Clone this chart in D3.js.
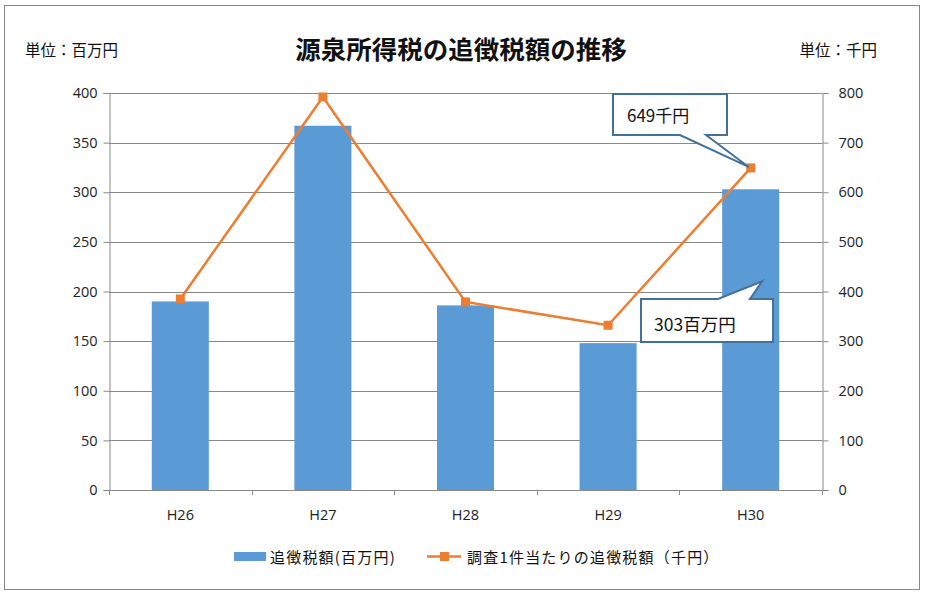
<!DOCTYPE html>
<html><head><meta charset="utf-8">
<script src="https://cdn.jsdelivr.net/npm/d3@7"></script>
<style>body{margin:0;background:#fff}svg{display:block;font-family:"Noto Sans CJK JP","Noto Sans",sans-serif}</style>
</head><body>
<svg id="c" width="925" height="595"></svg>
<script>
const categories = ["H26","H27","H28","H29","H30"];
const barValues = [190, 367, 186, 148, 303];
const lineValues = [385, 792, 379, 332, 649];
const leftTicks = [0,50,100,150,200,250,300,350,400];
const rightTicks = [0,100,200,300,400,500,600,700,800];
const barName = "追徴税額(百万円)";
const lineName = "調査1件当たりの追徴税額（千円）";
const title = "源泉所得税の追徴税額の推移";

const svg = d3.select("#c");
const M = {l:109, r:822, t:93, b:490};
const x = d3.scaleBand().domain(categories).range([M.l, M.r]).paddingInner(0.6).paddingOuter(0.3);
const xc = d3.scaleBand().domain(categories).range([M.l, M.r]);
const yL = d3.scaleLinear().domain([0,400]).range([M.b, M.t]);
const yR = d3.scaleLinear().domain([0,800]).range([M.b, M.t]);
const grid = "#888";

svg.append("rect").attr("x",4.5).attr("y",5.5).attr("width",915).attr("height",584)
  .attr("fill","#fff").attr("stroke","#888").attr("stroke-width",1);

// gridlines
svg.append("g").selectAll("line").data(leftTicks.slice(1)).join("line")
  .attr("x1",M.l).attr("x2",M.r).attr("y1",d=>Math.round(yL(d))+0.5).attr("y2",d=>Math.round(yL(d))+0.5)
  .attr("stroke",grid).attr("stroke-width",1);

// bars
svg.append("g").selectAll("rect").data(barValues).join("rect")
  .attr("x",(d,i)=>x(categories[i])).attr("width",x.bandwidth())
  .attr("y",d=>yL(d)).attr("height",d=>yL(0)-yL(d)).attr("fill","#5b9bd5");

// axes
const axL = d3.axisLeft(yL).tickValues(leftTicks).tickSize(6).tickPadding(6);
const gL = svg.append("g").attr("transform",`translate(${M.l+0.5},0)`).call(axL);
const axR = d3.axisRight(yR).tickValues(rightTicks).tickSize(6).tickPadding(10);
const gR = svg.append("g").attr("transform",`translate(${M.r+0.5},0)`).call(axR);
const axB = d3.axisBottom(xc).tickSize(0).tickPadding(19);
const gB = svg.append("g").attr("transform",`translate(0,${M.b+0.5})`).call(axB);
// category boundary ticks
svg.append("g").selectAll("line").data(d3.range(categories.length+1)).join("line")
  .attr("x1",i=>Math.round(M.l+i*xc.step())+0.5).attr("x2",i=>Math.round(M.l+i*xc.step())+0.5)
  .attr("y1",M.b).attr("y2",M.b+5).attr("stroke",grid);
[gL,gR,gB].forEach(g=>{
  g.selectAll(".domain").attr("stroke",grid);
  g.selectAll(".tick line").attr("stroke",grid);
  g.selectAll("text").attr("fill","#222").style("font-size","14.5px").style("font-family","'Open Sans','Noto Sans',sans-serif");
});
gB.select(".domain").attr("d",`M${M.l},0H${M.r}`);

// line
const pts = lineValues.map((v,i)=>[xc(categories[i])+xc.bandwidth()/2, yR(v)]);
svg.append("path").attr("d",d3.line()(pts)).attr("fill","none").attr("stroke","#ed7d31").attr("stroke-width",2.5);
svg.append("g").selectAll("rect").data(pts).join("rect")
  .attr("x",d=>d[0]-4.5).attr("y",d=>d[1]-4.5).attr("width",9).attr("height",9).attr("fill","#ed7d31");

// callouts
const cs = "#41719c";
const p30 = pts[4];
svg.append("path").attr("d",`M613,94H727V135H706L${p30[0]-2},${p30[1]-1}L680,135H613Z`)
  .attr("fill","#fff").attr("stroke",cs).attr("stroke-width",2).attr("stroke-linejoin","miter");
svg.append("text").attr("x",627).attr("y",122).text("649千円").style("font-size","17px").attr("fill","#111");
const b30 = [x("H30")+x.bandwidth()*0.7, yL(barValues[4])+92];
svg.append("path").attr("d",`M641,299H718L${b30[0]},${b30[1]}L750,299H773V342H641Z`)
  .attr("fill","#fff").attr("stroke",cs).attr("stroke-width",2);
svg.append("text").attr("x",654).attr("y",331).text("303百万円").style("font-size","17.5px").attr("fill","#111");

// titles
svg.append("text").attr("x",461).attr("y",59).attr("text-anchor","middle").text(title)
  .style("font-size","25.5px").style("font-weight","bold").attr("fill","#111");
svg.append("text").attr("x",25).attr("y",56).text("単位：百万円").style("font-size","15.5px").attr("fill","#111");
svg.append("text").attr("x",877).attr("y",56).attr("text-anchor","end").text("単位：千円").style("font-size","15.5px").attr("fill","#111");

// legend
svg.append("rect").attr("x",234).attr("y",552).attr("width",32).attr("height",9).attr("fill","#5b9bd5");
svg.append("text").attr("x",270).attr("y",563).text(barName).style("font-size","15px").style("letter-spacing","1.2px").attr("fill","#111");
svg.append("line").attr("x1",427).attr("x2",461).attr("y1",556.5).attr("y2",556.5).attr("stroke","#ed7d31").attr("stroke-width",2.5);
svg.append("rect").attr("x",440).attr("y",552).attr("width",9).attr("height",9).attr("fill","#ed7d31");
svg.append("text").attr("x",467).attr("y",563).text(lineName).style("font-size","15px").style("letter-spacing","1.2px").attr("fill","#111");
</script>
</body></html>
